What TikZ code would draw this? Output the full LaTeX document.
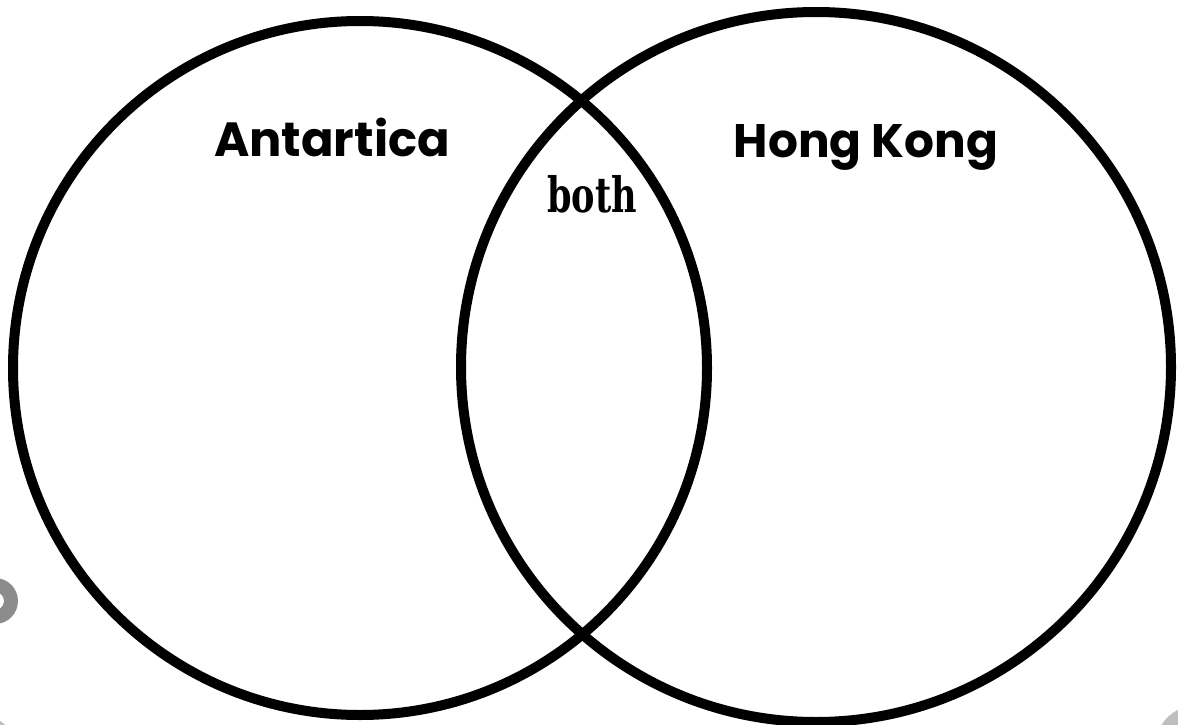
\documentclass[tikz,border=0pt]{standalone}
\usepackage{fontspec}
\newfontfamily\setfont{Poppins}
\newfontfamily\bothfont{DejaVu Serif Condensed}
\usepackage{tikz}

\begin{document}
\begin{tikzpicture}[x=1pt, y=-1pt]
\useasboundingbox (0,0) rectangle (1178,725);
% gray specks at the edges
\fill[black!45, even odd rule] (-5,601) circle (23pt) (-5,601) circle (9pt);
\fill[black!25] (1195,745) circle (39pt);
\fill[black!25] (-20,752) circle (37pt);
% the two sets
\draw[line width=10pt] (360,368) circle (347pt);
\draw[line width=10pt] (816,367) circle (355pt);
\node[font=\setfont\bfseries\fontsize{48}{54}\selectfont, anchor=base] (antarctica) at (332,156) {Antartica};
\node[font=\setfont\bfseries\fontsize{47}{54}\selectfont, anchor=base] (hongkong) at (866,157) {Hong Kong};
\node[font=\bothfont\bfseries\fontsize{39}{44}\selectfont, anchor=base] (both) at (592,212) {\scalebox{1}[1.25]{both}};
\end{tikzpicture}
\end{document}
